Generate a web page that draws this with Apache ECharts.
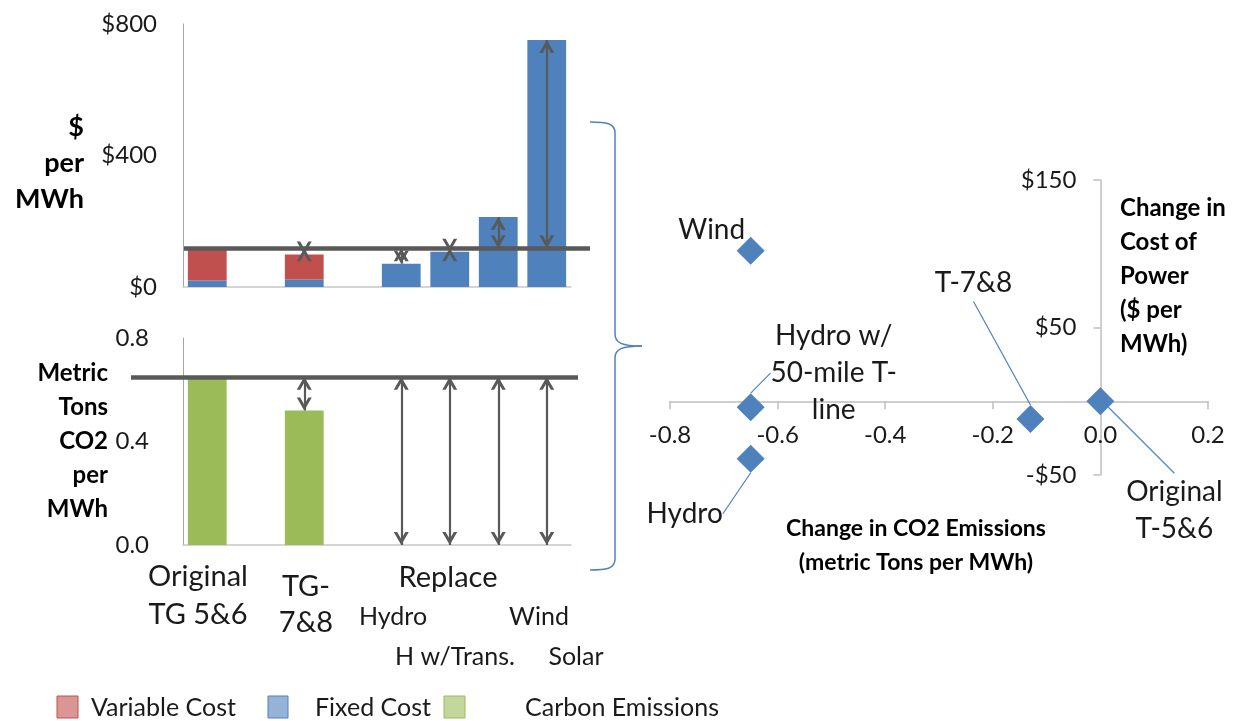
<!DOCTYPE html>
<html>
<head>
<meta charset="utf-8">
<script src="https://cdn.jsdelivr.net/npm/echarts@6/dist/echarts.min.js"></script>
<style>
  html, body { margin: 0; padding: 0; background: #ffffff; }
  #chart { width: 1241px; height: 721px; }
</style>
</head>
<body>
<div id="chart"></div>
<script>
// Options compared: keep the existing units or replace them
const categories = ['Original TG 5&6', '', 'TG-7&8', ' ', 'Hydro', 'H w/Trans.', 'Wind', 'Solar'];
// $ per MWh
const fixedCost = [20, null, 23, null, 71, 107, 213, 751];
const variableCost = [98, null, 76, null, null, null, null, null];
// metric tons CO2 per MWh
const carbonEmissions = [0.65, null, 0.52, null, 0, 0, 0, 0];

// Change relative to the original units
const scatterNames = ['Wind', 'Hydro w/\n50-mile T-\nline', 'Hydro', 'T-7&8', 'Original\nT-5&6'];
const co2Change = [-0.65, -0.65, -0.65, -0.13, 0];
const costChange = [102, -4, -39, -12, 0];

const legendNames = ['Variable Cost', 'Fixed Cost', 'Carbon Emissions'];

const FONT = 'Lato';
const INK = '#1a1a1a';
const BLUE = '#4f81bd';
const RED = '#c0504d';
const GREEN = '#9bbb59';
const DARK = '#595959';

const totalCost = fixedCost.map((f, i) => f == null ? null : f + (variableCost[i] || 0));
const costBase = totalCost[0];
const co2Base = carbonEmissions[0];

// scatter panel: axes cross at the origin
const scGrid = { left: 670, top: 180, width: 538, height: 295 };
const scX = { min: -0.8, max: 0.2, interval: 0.2 };
const scY = { min: -50, max: 150, interval: 100 };
const xAxisShift = -((0 - scY.min) / (scY.max - scY.min)) * scGrid.height;
const yAxisShift = -((0 - scX.min) / (scX.max - scX.min)) * scGrid.width;

// open chevron; its tip sits at the symbol centre so it lands on the line end
const chevron = 'path://M7.5,-2L7.5,-1.99Z M0,24L7.5,11L15,24L11.6,24L7.5,16.9L3.4,24Z';
const chevronSize = [15, 26];

const baseLineStyle = { color: DARK, width: 4.5, type: 'solid' };
const arrowLineStyle = { color: DARK, width: 2.2, type: 'solid' };

function arrowPairs(values, base) {
  const out = [];
  values.forEach((v, i) => {
    if (i === 0 || v == null) return;
    out.push([
      { coord: [i, base], symbol: chevron, symbolSize: chevronSize, lineStyle: arrowLineStyle },
      { coord: [i, v], symbol: chevron, symbolSize: chevronSize }
    ]);
  });
  return out;
}

const labelShift = [[-39, -21], [83, -34], [-66, 55], [-57, -136], [74, 109]];

const tickText = { fontFamily: FONT, fontSize: 24, color: INK };

function braceSegments() {
  const st = { fill: 'none', stroke: BLUE, lineWidth: 1.5 };
  const curve = (x1, y1, cpx1, cpy1, cpx2, cpy2, x2, y2) =>
    ({ type: 'bezierCurve', shape: { x1, y1, cpx1, cpy1, cpx2, cpy2, x2, y2 }, style: st, silent: true });
  const line = (x1, y1, x2, y2) => ({ type: 'line', shape: { x1, y1, x2, y2 }, style: st, silent: true });
  return [
    curve(590, 122, 606, 122, 615, 123, 615, 133),
    line(615, 133, 615, 334),
    curve(615, 334, 615, 343, 622, 346, 642, 346),
    curve(642, 346, 622, 346, 615, 349, 615, 358),
    line(615, 358, 615, 559),
    curve(615, 559, 615, 569, 606, 570, 590, 570)
  ];
}

const option = {
  animation: false,
  backgroundColor: '#ffffff',
  grid: [
    { left: 183, top: 24, width: 388, height: 263 },
    { left: 183, top: 338, width: 388, height: 207 },
    scGrid
  ],
  xAxis: [
    {
      type: 'category', gridIndex: 0, data: categories,
      axisLine: { lineStyle: { color: '#c8c8c8', width: 1.5 } },
      axisTick: { show: false }, axisLabel: { show: false }
    },
    {
      type: 'category', gridIndex: 1, data: categories,
      axisLine: { lineStyle: { color: '#c8c8c8', width: 1.5 } },
      axisTick: { show: false }, axisLabel: { show: false }
    },
    {
      type: 'value', gridIndex: 2, min: scX.min, max: scX.max, interval: scX.interval,
      position: 'bottom', offset: xAxisShift,
      axisLine: { onZero: false, lineStyle: { color: '#bfbfbf', width: 1.5 } },
      axisTick: { show: true, length: 8, lineStyle: { color: '#bfbfbf', width: 1.5 } },
      splitLine: { show: false },
      axisLabel: Object.assign({ margin: 22, formatter: v => v.toFixed(1) }, tickText)
    }
  ],
  yAxis: [
    {
      type: 'value', gridIndex: 0, min: 0, max: 800, interval: 400,
      axisLine: { show: true, lineStyle: { color: '#a6a6a6', width: 1 } },
      axisTick: { show: false }, splitLine: { show: false },
      axisLabel: Object.assign({ margin: 26, formatter: v => '$' + v }, tickText)
    },
    {
      type: 'value', gridIndex: 1, min: 0, max: 0.8, interval: 0.4,
      axisLine: { show: true, lineStyle: { color: '#a6a6a6', width: 1 } },
      axisTick: { show: false }, splitLine: { show: false },
      axisLabel: Object.assign({ margin: 34, formatter: v => v.toFixed(1) }, tickText)
    },
    {
      type: 'value', gridIndex: 2, min: scY.min, max: scY.max, interval: scY.interval,
      position: 'left', offset: yAxisShift,
      axisLine: { show: true, onZero: false, lineStyle: { color: '#bfbfbf', width: 1.5 } },
      axisTick: { show: true, length: 7, lineStyle: { color: '#bfbfbf', width: 1.5 } },
      splitLine: { show: false },
      axisLabel: Object.assign({ margin: 24, formatter: v => (v < 0 ? '-$' : '$') + Math.abs(v) }, tickText)
    }
  ],
  series: [
    {
      name: 'Fixed Cost', type: 'bar', xAxisIndex: 0, yAxisIndex: 0, stack: 'cost',
      barWidth: '80%', data: fixedCost, itemStyle: { color: BLUE }
    },
    {
      name: 'Variable Cost', type: 'bar', xAxisIndex: 0, yAxisIndex: 0, stack: 'cost',
      barWidth: '80%', data: variableCost, itemStyle: { color: RED },
      markLine: {
        silent: true, symbol: 'none', label: { show: false },
        emphasis: { disabled: true },
        data: [
          [{ yAxis: costBase, x: 184, lineStyle: baseLineStyle }, { yAxis: costBase, x: 590 }]
        ].concat(arrowPairs(totalCost, costBase))
      }
    },
    {
      name: 'Carbon Emissions', type: 'bar', xAxisIndex: 1, yAxisIndex: 1,
      barWidth: '80%', data: carbonEmissions, itemStyle: { color: GREEN },
      markLine: {
        silent: true, symbol: 'none', label: { show: false },
        emphasis: { disabled: true },
        data: [
          [{ yAxis: co2Base, x: 131, lineStyle: baseLineStyle }, { yAxis: co2Base, x: 578 }]
        ].concat(arrowPairs(carbonEmissions, co2Base))
      }
    },
    {
      name: 'Change', type: 'scatter', xAxisIndex: 2, yAxisIndex: 2,
      symbol: 'diamond', symbolSize: [28, 28],
      itemStyle: { color: BLUE, opacity: 1 },
      data: co2Change.map((x, i) => ({
        name: scatterNames[i],
        value: [x, costChange[i]],
        labelLine: { show: i !== 0 }
      })),
      label: {
        show: true, position: 'inside', formatter: p => p.name,
        fontFamily: FONT, fontSize: 28, lineHeight: 37, color: INK, align: 'center', opacity: 1
      },
      labelLine: { show: true, length2: 0, lineStyle: { color: BLUE, width: 1.2, opacity: 1 } },
      labelLayout: p => ({ dx: labelShift[p.dataIndex][0], dy: labelShift[p.dataIndex][1] })
    }
  ],
  graphic: [
    // axis titles
    { type: 'text', x: 84, y: 163, style: { text: '$\nper\nMWh', fontFamily: FONT, fontWeight: 'bold', fontSize: 27, lineHeight: 36, fill: '#000', align: 'right', verticalAlign: 'middle' } },
    { type: 'text', x: 108, y: 441, style: { text: 'Metric\nTons\nCO2\nper\nMWh', fontFamily: FONT, fontWeight: 'bold', fontSize: 24, lineHeight: 34, fill: '#000', align: 'right', verticalAlign: 'middle' } },
    { type: 'text', x: 916, y: 546, style: { text: 'Change in CO2 Emissions\n(metric Tons per MWh)', fontFamily: FONT, fontWeight: 'bold', fontSize: 23, lineHeight: 34, fill: '#000', align: 'center', verticalAlign: 'middle' } },
    { type: 'text', x: 1120, y: 276, style: { text: 'Change in\nCost of\nPower\n($ per\nMWh)', fontFamily: FONT, fontWeight: 'bold', fontSize: 24, lineHeight: 34, fill: '#000', align: 'left', verticalAlign: 'middle' } },
    // category labels under the bars
    { type: 'text', x: 198, y: 596, style: { text: 'Original\nTG 5&6', fontFamily: FONT, fontSize: 29, lineHeight: 38, fill: INK, align: 'center', verticalAlign: 'middle' } },
    { type: 'text', x: 306, y: 605, style: { text: 'TG-\n7&8', fontFamily: FONT, fontSize: 29, lineHeight: 36, fill: INK, align: 'center', verticalAlign: 'middle' } },
    { type: 'text', x: 448, y: 578, style: { text: 'Replace', fontFamily: FONT, fontSize: 29, fill: INK, align: 'center', verticalAlign: 'middle' } },
    { type: 'text', x: 393, y: 617, style: { text: categories[4], fontFamily: FONT, fontSize: 25, fill: INK, align: 'center', verticalAlign: 'middle' } },
    { type: 'text', x: 455, y: 657, style: { text: categories[5], fontFamily: FONT, fontSize: 25, fill: INK, align: 'center', verticalAlign: 'middle' } },
    { type: 'text', x: 539, y: 617, style: { text: categories[6], fontFamily: FONT, fontSize: 25, fill: INK, align: 'center', verticalAlign: 'middle' } },
    { type: 'text', x: 576, y: 657, style: { text: categories[7], fontFamily: FONT, fontSize: 25, fill: INK, align: 'center', verticalAlign: 'middle' } },
    // legend
    { type: 'rect', shape: { x: 57, y: 696, width: 21, height: 22 }, style: { fill: '#d99694', stroke: RED, lineWidth: 1 } },
    { type: 'text', x: 91, y: 708, style: { text: legendNames[0], fontFamily: FONT, fontSize: 25, fill: INK, align: 'left', verticalAlign: 'middle' } },
    { type: 'rect', shape: { x: 268, y: 696, width: 20, height: 22 }, style: { fill: '#95b3d7', stroke: BLUE, lineWidth: 1 } },
    { type: 'text', x: 315, y: 708, style: { text: legendNames[1], fontFamily: FONT, fontSize: 25, fill: INK, align: 'left', verticalAlign: 'middle' } },
    { type: 'rect', shape: { x: 444, y: 696, width: 21, height: 22 }, style: { fill: '#c3d69b', stroke: GREEN, lineWidth: 1 } },
    { type: 'text', x: 525, y: 708, style: { text: legendNames[2], fontFamily: FONT, fontSize: 25, fill: INK, align: 'left', verticalAlign: 'middle' } }
  ].concat(braceSegments())
};

const chart = echarts.init(document.getElementById('chart'));
chart.setOption(option);
</script>
</body>
</html>
